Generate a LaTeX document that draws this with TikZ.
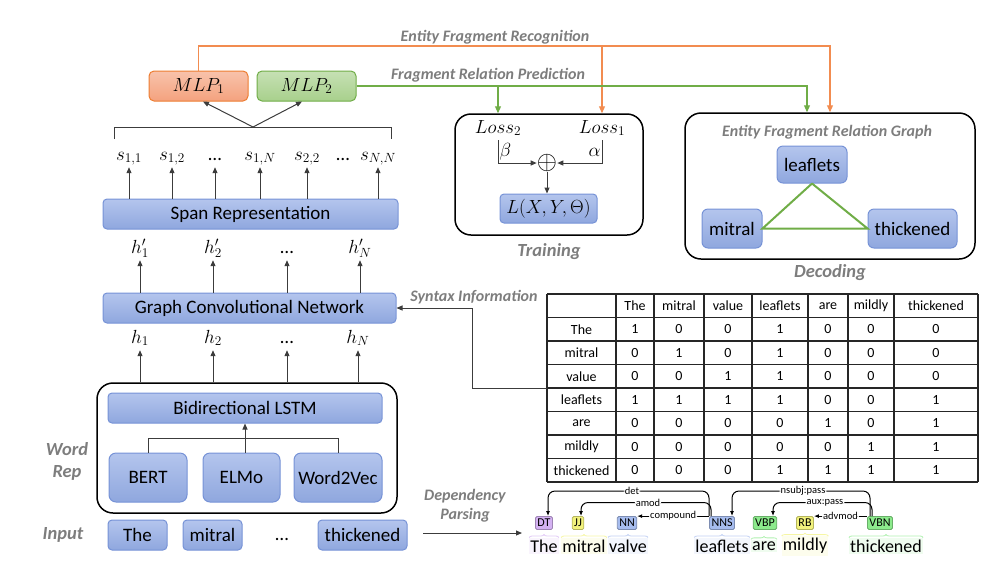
\RequirePackage{fix-cm}
\documentclass[tikz,border=0pt]{standalone}
\usepackage{fontspec}
\setmainfont{Carlito}
\usetikzlibrary{arrows.meta, positioning, decorations.pathreplacing}
\definecolor{boxtop}{RGB}{180,197,237}
\definecolor{boxbottom}{RGB}{143,167,222}
\definecolor{boxborder}{RGB}{118,146,214}
\definecolor{mlpone}{RGB}{244,162,126}
\definecolor{mlponeb}{RGB}{237,125,49}
\definecolor{mlptwo}{RGB}{168,208,140}
\definecolor{mlptwob}{RGB}{112,173,71}
\definecolor{notegray}{RGB}{125,125,125}
\definecolor{linegray}{RGB}{60,60,60}
\definecolor{orangeline}{RGB}{242,140,80}
\definecolor{greenline}{RGB}{112,173,71}
\definecolor{tagpurple}{RGB}{212,178,242}
\definecolor{tagyellow}{RGB}{242,242,125}
\definecolor{tagblue}{RGB}{166,188,238}
\definecolor{taggreen}{RGB}{140,234,140}
\tikzstyle{block} = [draw=boxborder, line width=1pt, rounded corners=4pt, top color=boxtop, bottom color=boxbottom, font=\fontsize{19}{22}\selectfont, inner sep=0pt]
\tikzstyle{mlp} = [block, minimum width=99pt, minimum height=30pt, rounded corners=5pt]
\tikzstyle{frame} = [draw, line width=1.5pt, rounded corners=16pt]
\tikzstyle{note} = [font=\fontsize{18.5}{22}\selectfont\bfseries\itshape, text=notegray]
\tikzstyle{flowlabel} = [font=\fontsize{16}{19}\selectfont\bfseries\itshape, text=notegray]
\tikzstyle{var} = [font=\fontsize{19}{22}\selectfont, inner xsep=1pt, inner ysep=3pt, text height=10pt, text depth=4pt]
\tikzstyle{arrow} = [-{Triangle[length=6pt, width=5pt]}, draw=linegray, line width=1pt]
\tikzstyle{plain} = [draw=linegray, line width=1pt]
\tikzstyle{recog} = [-{Triangle[length=7pt, width=6pt]}, draw=orangeline, line width=1.1pt]
\tikzstyle{pred} = [-{Triangle[length=7pt, width=6pt]}, draw=greenline, line width=1.1pt]
\tikzstyle{relation} = [draw=greenline, line width=2pt]
\tikzstyle{cell} = [font=\fontsize{14}{16}\selectfont]
\tikzstyle{tabline} = [draw=black!85, line width=1.1pt]
\tikzstyle{tag} = [line width=0.8pt, rounded corners=1.5pt, font=\fontsize{12}{14}\selectfont, inner xsep=2pt, inner ysep=0pt, minimum height=13pt]
\tikzstyle{word} = [font=\fontsize{18}{21}\selectfont, inner xsep=1pt, inner ysep=2pt]
\tikzstyle{wordbrace} = [decorate, decoration={brace, amplitude=3pt}, line width=0.8pt]
\tikzstyle{deparc} = [-{Latex[length=5pt, width=4pt]}, line width=1pt, rounded corners=7pt]
\tikzstyle{deplabel} = [font=\fontsize{10.5}{12}\selectfont, fill=white, inner xsep=1pt, inner ysep=0pt]
\begin{document}
\begin{tikzpicture}[x=1pt, y=-1pt]
    \useasboundingbox (0,0) rectangle (985,566);

    % Word representation.
    \node (wordrep) [frame, minimum width=300pt, minimum height=130pt] at (247,448) {};
    \node (bilstm) [block, minimum width=274pt, minimum height=30pt] at (245,408) {Bidirectional LSTM};
    \node (bert) [block, minimum width=78pt, minimum height=49pt, rounded corners=7pt] at (148,477.5) {BERT};
    \node (elmo) [block, minimum width=77pt, minimum height=49pt, rounded corners=7pt] at (241.5,477.5) {ELMo};
    \node (wvec) [block, minimum width=88pt, minimum height=49pt, rounded corners=7pt] at (338,477.5) {Word2Vec};
    \coordinate (join) at (245,438);
    \draw [plain] (bert.north) |- (join) -| (wvec.north);
    \draw [plain] (join |- elmo.north) -- (join);
    \draw [arrow] (join) -- (join |- bilstm.south);

    % Inputs.
    \node (inthe) [block, minimum width=59pt, minimum height=30pt] at (137.5,535) {The};
    \node (inmitral) [block, minimum width=59pt, minimum height=30pt] at (212.5,535) {mitral};
    \node (indots) [var] at (282,537) {\ldots};
    \node (inthick) [block, minimum width=89pt, minimum height=30pt] at (362.5,535) {thickened};

    \node (wordlab) [note, align=center] at (67,461) {Word\\Rep};
    \node (inlab) [note] at (63,535) {Input};

    % Encoder layers.
    \node (gcn) [block, minimum width=293pt, minimum height=30pt] at (249.5,308) {Graph Convolutional Network};
    \node (span) [block, minimum width=295pt, minimum height=30pt] at (250.5,214) {Span Representation};

    \foreach \x/\lab [count=\i] in {140/$h_1$, 213/$h_2$, 287/\ldots, 358/$h_N$} {
        \node (h\i) [var] at (\x,340) {\lab};
        \draw [arrow] (wordrep.north -| h\i) -- (h\i.south);
    }
    \foreach \x/\lab [count=\i] in {140/$h'_1$, 213/$h'_2$, 287/\ldots, 360/$h'_N$} {
        \node (hp\i) [var] at (\x,250) {\lab};
        \draw [arrow] (gcn.north -| hp\i) -- (hp\i.south);
    }
    \foreach \x/\lab [count=\i] in {129/$s_{1,1}$, 172/$s_{1,2}$, 215/\ldots, 260/$s_{1,N}$, 307/$s_{2,2}$, 343/\ldots, 378/$s_{N,N}$} {
        \node (s\i) [var] at (\x,157) {\lab};
    }
    \foreach \i in {1,...,5,7} {
        \draw [arrow] (span.north -| s\i) -- (s\i.south);
    }

    % Classifiers.
    \node (mlp1) [mlp, draw=mlponeb, top color=mlpone!65!white, bottom color=mlpone] at (198.5,86) {$MLP_1$};
    \node (mlp2) [mlp, draw=mlptwob, top color=mlptwo!65!white, bottom color=mlptwo] at (306.5,86) {$MLP_2$};
    \draw [plain] (114,139) -- (114,127) -- (391,127) -- (391,139);
    \coordinate (bracetop) at (253,127);
    \draw [arrow] (bracetop) -- ([xshift=4.5pt]mlp1.south);
    \draw [arrow] (bracetop) -- ([xshift=-4.5pt]mlp2.south);

    % Training.
    \node (train) [frame, minimum width=188pt, minimum height=121pt] at (549,174.5) {};
    \node (loss2) [var] at (498,130) {$Loss_2$};
    \node (loss1) [var] at (602,130) {$Loss_1$};
    \node (plus) [inner sep=0pt, font=\fontsize{26}{28}\selectfont] at (547,163) {$\oplus$};
    \node (objective) [block, minimum width=97pt, minimum height=29pt] at (548.5,208.5) {$L(X,Y,\Theta)$};
    \draw [arrow] (loss2.south) |- node [var, pos=0.3, right, text height=8pt, text depth=2pt] {$\beta$} (plus.west);
    \draw [arrow] (loss1.south) |- node [var, pos=0.3, left, text height=8pt, text depth=2pt] {$\alpha$} (plus.east);
    \draw [arrow] (plus.south) -- (objective.north -| plus);
    \node (trainlab) [note, below=4pt of train] {Training};

    % Decoding.
    \node (decode) [frame, minimum width=290pt, minimum height=146pt] at (830,186) {};
    \node (graphtitle) [flowlabel] at (827,132) {Entity Fragment Relation Graph};
    \node (leaflets) [block, minimum width=70pt, minimum height=37pt, rounded corners=6pt] at (812,164.5) {leaflets};
    \node (mitral) [block, minimum width=60pt, minimum height=39pt, rounded corners=6pt] at (732,228.5) {mitral};
    \node (thickened) [block, minimum width=89pt, minimum height=39pt, rounded corners=6pt] at (912.5,228.5) {thickened};
    \draw [relation] (leaflets.south) -- (mitral.east) -- (thickened.west) -- (leaflets.south);
    \node (decodelab) [note, below=1pt of decode] {Decoding};

    % Task flows.
    \coordinate (recline) at (0,46);
    \coordinate (decrec) at (830,0);
    \coordinate (decpred) at (807,0);
    \draw [recog] (mlp1.north) |- (recline -| decrec) -- (decode.north -| decrec);
    \draw [recog] (recline -| loss1) -- (train.north -| loss1);
    \draw [pred] (mlp2.east) -- (mlp2.east -| decpred) -- (decode.north -| decpred);
    \draw [pred] (mlp2.east -| loss2) -- (train.north -| loss2);
    \node (reclab) [flowlabel] at (495,37) {Entity Fragment Recognition};
    \node (predlab) [flowlabel] at (488,75) {Fragment Relation Prediction};

    % Adjacency table.
    \foreach \x in {547,616,654,704,752,808,848,894,978} {
        \draw [tabline] (\x,294) -- (\x,482);
    }
    \foreach \k in {0,...,8} {
        \draw [tabline] (547,294+23.5*\k) -- (978,294+23.5*\k);
    }
    \def\colx{{581.5,635,679,728,780,828,871,936}}
    \foreach \row [count=\r from 0] in {{{},The,mitral,value,leaflets,are,mildly,thickened},
            {The,1,0,0,1,0,0,0}, {mitral,0,1,0,1,0,0,0}, {value,0,0,1,1,0,0,0},
            {leaflets,1,1,1,1,0,0,1}, {are,0,0,0,0,1,0,1}, {mildly,0,0,0,0,0,1,1},
            {thickened,0,0,0,1,1,1,1}} {
        \foreach \v [count=\c from 0] in \row {
            \pgfmathsetmacro{\cx}{\colx[\c]}
            \node (cell\r\c) [cell] at (\cx,305.75+23.5*\r) {\v};
        }
    }
    \coordinate (tabrow) at (547,388);
    \draw [arrow, line width=0.9pt] (tabrow) -- ++(-75,0) |- (gcn.east);
    \node (syntaxlab) [flowlabel] at (474,297) {Syntax Information};

    % Dependency parse.
    \node (deplab) [flowlabel, align=center] at (465,506) {Dependency\\Parsing};
    \coordinate (parsefrom) at (423,533);
    \coordinate (parseto) at (522,533);
    \draw [arrow] (parsefrom) -- (parseto);

    \foreach \w/\x/\tx/\ptag/\col in {The/544/544/DT/tagpurple, mitral/584/578/JJ/tagyellow,
            valve/628/627/NN/tagblue, leaflets/722/722/NNS/tagblue, are/764/765/VBP/taggreen,
            mildly/805/805/RB/tagyellow, thickened/886/880/VBN/taggreen} {
        \node (w\w) [word, fill=\col!14] at (\x,546) {\w};
        \node (t\ptag) [tag, draw=\col!75!black, fill=\col] at (\tx,523) {\ptag};
        \draw [wordbrace, draw=\col!70] (w\w.north west) -- (w\w.north east);
    }

    \draw [deparc] ([xshift=-13pt]tNNS.north) |- (632,491) node [deplabel] {det} -| ([xshift=4pt]tDT.north);
    \draw [deparc] ([xshift=-11pt]tNNS.north) |- (648,502.5) node [deplabel] {amod} -| ([xshift=3pt]tJJ.north);
    \draw [deparc] (tNNS.north west) -- node [deplabel] {compound} (tNN.north east);
    \draw [deparc] ([xshift=-10pt]tVBN.north) |- (803,491) node [deplabel] {nsubj:pass} -| ([xshift=10pt]tNNS.north);
    \draw [deparc] ([xshift=-8pt]tVBN.north) |- (825,502.5) node [deplabel] {aux:pass} -| ([xshift=8pt]tVBP.north);
    \draw [deparc] (tVBN.north west) -- node [deplabel] {advmod} (tRB.north east);
\end{tikzpicture}
\end{document}
